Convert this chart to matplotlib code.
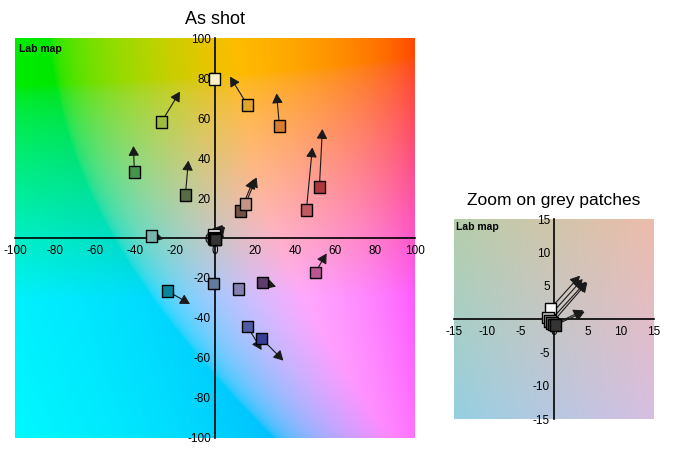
import numpy as np
import matplotlib
matplotlib.use("Agg")
import matplotlib.pyplot as plt

plt.rcParams['font.family'] = ['Liberation Sans', 'DejaVu Sans']

# ColorChecker patches: measured (as shot) a*, b* and reference target a*, b*
patch_names = [
    "dark skin", "light skin", "blue sky", "foliage", "blue flower", "bluish green",
    "orange", "purplish blue", "moderate red", "purple", "yellow green", "orange yellow",
    "blue", "green", "red", "yellow", "magenta", "cyan",
    "white", "neutral 8", "neutral 6.5", "neutral 5", "neutral 3.5", "black",
]
shot_a = [12.7, 15.2, -0.8, -14.8, 11.7, -31.8,
          32.2, 16.2, 45.7, 23.7, -26.8, 16.2,
          23.2, -40.3, 52.2, -0.3, 50.2, -23.8,
          -0.5, -0.9, -0.6, -0.3, 0.0, 0.2]
shot_b = [13.5, 17.0, -22.7, 21.5, -25.5, 1.0,
          56.0, -44.2, 14.0, -22.2, 58.0, 66.5,
          -50.2, 33.0, 25.5, 79.5, -17.2, -26.5,
          1.6, 0.2, -0.3, -0.6, -0.8, -0.9]
target_a = [19.5, 20.8, 0.8, -13.3, 15.0, -25.8,
            30.8, 23.3, 48.7, 30.5, -17.5, 7.5,
            34.2, -40.8, 53.7, -1.7, 55.8, -12.5,
            3.9, 4.3, 4.8, 5.0, 4.4, 4.6]
target_b = [29.5, 30.3, -26.3, 38.7, -23.0, -0.5,
            72.3, -56.0, 45.3, -24.3, 73.2, 80.7,
            -61.3, 46.0, 54.5, 83.0, -7.7, -33.0,
            6.5, 6.0, 5.6, 5.5, 1.3, 1.1]
patch_colors = ["#735244", "#c29682", "#627a9d", "#576c43", "#8580b1", "#78b4ad",
                "#d67e2c", "#505ba6", "#c15a63", "#5e3c6c", "#9dbc40", "#e0a32e",
                "#383d96", "#469449", "#af363c", "#fcf1c6", "#bb5695", "#08859f",
                "#f8f8f8", "#c8c8c8", "#a0a0a0", "#7a7a7a", "#555555", "#343434"]
grey_patches = ["white", "neutral 8", "neutral 6.5", "neutral 5", "neutral 3.5", "black"]

main_ticks = [-100, -80, -60, -40, -20, 0, 20, 40, 60, 80, 100]
zoom_ticks = [-15, -10, -5, 0, 5, 10, 15]
map_lightness = 80.0


def lab_to_srgb(L, a, b):
    fy = (L + 16.0) / 116.0
    fx = fy + a / 500.0
    fz = fy - b / 200.0
    d = 6.0 / 29.0

    def finv(t):
        return np.where(t > d, t ** 3, 3 * d * d * (t - 4.0 / 29.0))

    X = 0.95047 * finv(fx)
    Y = 1.00000 * finv(fy)
    Z = 1.08883 * finv(fz)
    r = 3.2406 * X - 1.5372 * Y - 0.4986 * Z
    g = -0.9689 * X + 1.8758 * Y + 0.0415 * Z
    bl = 0.0557 * X - 0.2040 * Y + 1.0570 * Z
    rgb = np.stack([r, g, bl], axis=-1)
    rgb = np.clip(rgb, 0, 1)
    rgb = np.where(rgb > 0.0031308, 1.055 * rgb ** (1 / 2.4) - 0.055, 12.92 * rgb)
    return np.clip(rgb, 0, 1)


def lab_map(ax, lim):
    n = 300
    aa, bb = np.meshgrid(np.linspace(-lim, lim, n), np.linspace(-lim, lim, n))
    img = lab_to_srgb(np.full_like(aa, map_lightness), aa, bb)
    ax.imshow(img, extent=[-lim, lim, -lim, lim], origin='lower',
              aspect='auto', interpolation='bilinear', zorder=0)


def style_axes(ax, lim, ticks):
    ax.set_xlim(-lim, lim)
    ax.set_ylim(-lim, lim)
    for side in ('top', 'right'):
        ax.spines[side].set_visible(False)
    ax.spines['left'].set_position(('data', 0))
    ax.spines['bottom'].set_position(('data', 0))
    ax.spines['left'].set_linewidth(1.2)
    ax.spines['bottom'].set_linewidth(1.2)
    ax.set_xticks(ticks)
    ax.set_yticks(ticks)
    ax.set_xticklabels([str(t) for t in ticks])
    ax.set_yticklabels([str(t) for t in ticks])
    ax.tick_params(length=0, labelsize=8.5, pad=3)
    ax.tick_params(axis='x', pad=5)
    ax.text(0.01, 0.985, "Lab map", transform=ax.transAxes, fontsize=7.5,
            fontweight='bold', va='top', ha='left', zorder=5)


def draw_patches(ax, names):
    idx = [i for i, n in enumerate(patch_names) if n in names]
    for i in idx:
        ax.annotate('', xy=(target_a[i], target_b[i]), xytext=(shot_a[i], shot_b[i]),
                    arrowprops=dict(arrowstyle='-|>,head_length=0.45,head_width=0.25',
                                    color='#1a1a1a', lw=0.8,
                                    mutation_scale=13, shrinkA=0, shrinkB=0),
                    zorder=3)
    ax.scatter([shot_a[i] for i in idx], [shot_b[i] for i in idx],
               c=[patch_colors[i] for i in idx], marker='s', s=64,
               edgecolors='black', linewidths=1.0, zorder=4)


fig = plt.figure(figsize=(6.84, 4.5), dpi=100)

ax1 = fig.add_axes([15 / 684, 12 / 450, 400 / 684, 400 / 450])
lab_map(ax1, 100)
style_axes(ax1, 100, main_ticks)
draw_patches(ax1, patch_names)
ax1.set_title("As shot", fontsize=13, pad=10)

ax2 = fig.add_axes([454 / 684, 31 / 450, 200 / 684, 200 / 450])
lab_map(ax2, 15)
style_axes(ax2, 15, zoom_ticks)
draw_patches(ax2, grey_patches)
ax2.set_title("Zoom on grey patches", fontsize=12.5, pad=10)

fig.savefig("out.png", dpi=100)
